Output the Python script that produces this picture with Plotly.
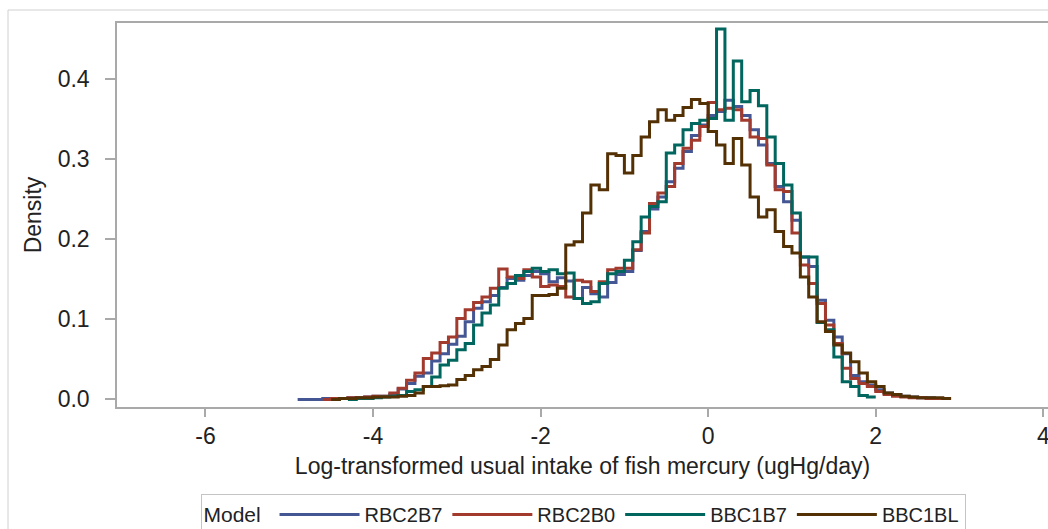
import numpy as np
import plotly.graph_objects as go

# Histogram bins: width 0.1 on the log scale, shared by all models
BIN_START = -4.9
BIN_WIDTH = 0.1
N_BINS = 78
bin_edges = [round(BIN_START + BIN_WIDTH * i, 2) for i in range(N_BINS + 1)]

# Density per bin (None where a model has no observations)
rbc2b7 = [0.000, 0.000, 0.000, 0.001, 0.001, 0.001, 0.002, 0.002, 0.003, 0.004,
          0.004, 0.006, 0.013, 0.020, 0.029, 0.033, 0.048, 0.057, 0.069, 0.079,
          0.097, 0.114, 0.122, 0.130, 0.140, 0.151, 0.149, 0.155, 0.160, 0.157,
          0.147, 0.152, 0.148, 0.126, 0.140, 0.132, 0.128, 0.146, 0.156, 0.160,
          0.186, 0.210, 0.238, 0.253, 0.272, 0.289, 0.310, 0.330, 0.343, 0.355,
          0.360, 0.374, 0.366, 0.355, 0.337, 0.318, 0.295, 0.266, 0.247, 0.224,
          0.178, 0.166, 0.124, 0.099, 0.078, 0.057, 0.030, 0.022, 0.018, 0.012,
          0.008, 0.006, 0.004, 0.003, 0.002, 0.002, 0.001, None]

rbc2b0 = [None, None, None, 0.000, 0.001, 0.001, 0.002, 0.002, 0.003, 0.004,
          0.004, 0.008, 0.014, 0.024, 0.033, 0.051, 0.058, 0.071, 0.078, 0.101,
          0.112, 0.121, 0.128, 0.139, 0.163, 0.153, 0.151, 0.162, 0.153, 0.141,
          0.143, 0.141, 0.128, 0.149, 0.147, 0.135, 0.147, 0.162, 0.164, 0.164,
          0.187, 0.208, 0.245, 0.258, 0.266, 0.295, 0.314, 0.324, 0.341, 0.371,
          0.362, 0.364, 0.362, 0.349, 0.328, 0.326, 0.293, 0.262, 0.260, 0.208,
          0.168, 0.145, 0.120, 0.093, 0.070, 0.039, 0.026, 0.020, 0.016, 0.010,
          0.006, 0.004, 0.003, 0.002, 0.002, 0.001, 0.001, None]

bbc1b7 = [None, None, None, None, None, None, 0.000, 0.001, 0.001, 0.002,
          0.003, 0.004, 0.005, 0.010, 0.012, 0.016, 0.028, 0.043, 0.049, 0.062,
          0.070, 0.093, 0.108, 0.118, 0.139, 0.145, 0.155, 0.160, 0.164, 0.160,
          0.162, 0.157, 0.158, 0.126, 0.120, 0.122, 0.145, 0.157, 0.160, 0.174,
          0.197, 0.228, 0.241, 0.247, 0.308, 0.318, 0.337, 0.345, 0.349, 0.351,
          0.463, 0.349, 0.423, 0.372, 0.386, 0.367, 0.328, 0.295, 0.268, 0.233,
          0.178, 0.178, 0.096, 0.087, 0.053, 0.022, 0.016, 0.005, 0.003, None,
          None, None, None, None, None, None, None, None]

bbc1bl = [None, None, None, None, 0.000, 0.001, 0.001, 0.002, 0.002, 0.003,
          0.003, 0.003, 0.004, 0.005, 0.008, 0.016, 0.016, 0.017, 0.018, 0.025,
          0.030, 0.037, 0.041, 0.050, 0.068, 0.087, 0.095, 0.101, 0.130, 0.130,
          0.131, 0.139, 0.193, 0.197, 0.233, 0.268, 0.262, 0.307, 0.305, 0.283,
          0.305, 0.328, 0.347, 0.362, 0.349, 0.355, 0.365, 0.375, 0.370, 0.335,
          0.318, 0.295, 0.326, 0.293, 0.253, 0.228, 0.237, 0.210, 0.191, 0.183,
          0.153, 0.128, 0.097, 0.085, 0.068, 0.058, 0.047, 0.033, 0.022, 0.016,
          0.008, 0.006, 0.004, 0.003, 0.002, 0.002, 0.002, 0.001]

models = ["RBC2B7", "RBC2B0", "BBC1B7", "BBC1BL"]
densities = [rbc2b7, rbc2b0, bbc1b7, bbc1bl]
colors = ["#445694", "#A23A2E", "#01665E", "#543005"]

x_ticks = [-6, -4, -2, 0, 2, 4]
x_tick_labels = ["-6", "-4", "-2", "0", "2", "4"]
y_ticks = [0.0, 0.1, 0.2, 0.3, 0.4]
y_tick_labels = ["0.0", "0.1", "0.2", "0.3", "0.4"]

FONT = "Liberation Sans, Arial, sans-serif"
AXIS_GRAY = "#a9a9a9"
AX_TXT = 23
LEG_TXT = 20

fig = go.Figure()
for name, dens, col in zip(models, densities, colors):
    # step outline: each bin drawn from its left edge to its right edge
    xs, ys = [], []
    for i, v in enumerate(dens):
        if v is None:
            continue
        if xs and xs[-1] != bin_edges[i]:
            xs.append(None)
            ys.append(None)
        xs.extend([bin_edges[i], bin_edges[i + 1]])
        ys.extend([v, v])
    fig.add_trace(go.Scatter(
        x=xs, y=ys, mode="lines", name=name,
        line=dict(color=col, width=3, shape="hv"),
        connectgaps=False,
    ))

W, H = 1048, 529
m_l, m_r, m_t, m_b = 117, 0, 23, 122
pw, ph = W - m_l - m_r, H - m_t - m_b


def px_x(p):
    return (p - m_l) / pw


def px_y(p):
    return (H - m_b - p) / ph


fig.update_layout(
    width=W, height=H,
    margin=dict(l=m_l, r=m_r, t=m_t, b=m_b, autoexpand=False),
    paper_bgcolor="white", plot_bgcolor="white",
    font=dict(family=FONT, size=AX_TXT, color="#222222"),
    showlegend=True,
    legend=dict(
        orientation="h", x=px_x(583), xanchor="center",
        y=px_y(494), yanchor="top",
        title=dict(text="Model ", side="left", font=dict(size=LEG_TXT + 1)),
        font=dict(size=LEG_TXT),
        bordercolor="#c4c4c4", borderwidth=1, bgcolor="white",
        itemwidth=80, tracegroupgap=0,
    ),
    xaxis=dict(
        range=[-7.056, 4.056], tickvals=x_ticks, ticktext=x_tick_labels,
        ticks="outside", ticklen=8, tickcolor=AXIS_GRAY, tickwidth=1.5,
        showline=True, linecolor=AXIS_GRAY, linewidth=1.5, mirror=True,
        showgrid=False, zeroline=False, ticklabeloverflow="allow",
        tickfont=dict(size=AX_TXT),
        title=dict(text="Log-transformed usual intake of fish mercury (ugHg/day)",
                   font=dict(size=AX_TXT), standoff=10),
    ),
    yaxis=dict(
        range=[-0.0095, 0.4705], tickvals=y_ticks, ticktext=y_tick_labels,
        ticks="outside", ticklen=10, tickcolor=AXIS_GRAY, tickwidth=1.5,
        showline=True, linecolor=AXIS_GRAY, linewidth=1.5, mirror=True,
        showgrid=False, zeroline=False, ticklabelstandoff=11,
        tickfont=dict(size=AX_TXT),
        title=dict(text="Density", font=dict(size=AX_TXT), standoff=10),
    ),
    shapes=[dict(
        type="rect", xref="paper", yref="paper",
        x0=px_x(8), x1=px_x(1060), y0=px_y(540), y1=px_y(10),
        line=dict(color="#d0d0d0", width=1), layer="below",
    )],
)

fig.write_html("out.html")
